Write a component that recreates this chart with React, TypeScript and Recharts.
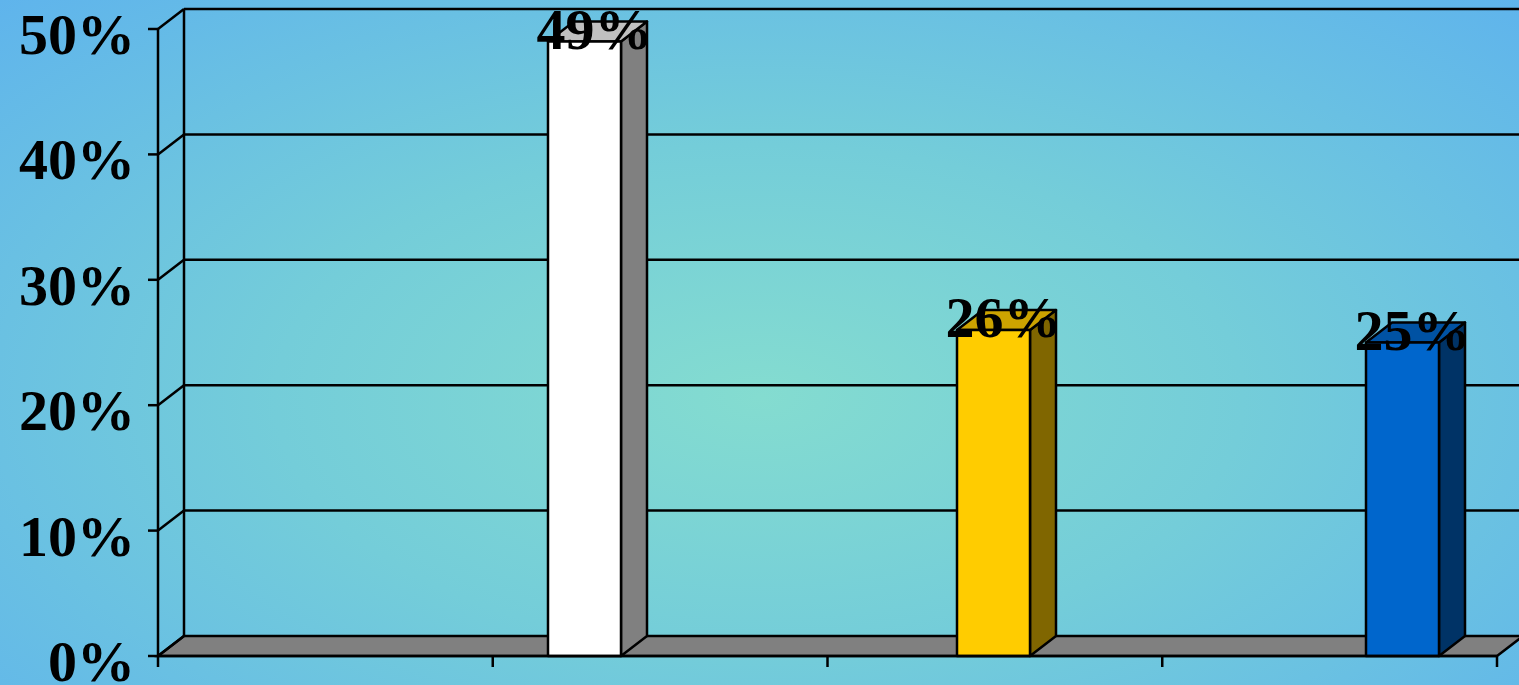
import { Bar, BarChart, CartesianGrid, Cell, LabelList, XAxis, YAxis } from 'recharts';

const categories = ['A', 'B', 'C'];
const values = [49, 26, 25];
const yTicks = [0, 10, 20, 30, 40, 50];
const floorTicks = [0, 1, 2, 3, 4];
const frontColors = ['#ffffff', '#ffcc00', '#0066cc'];
const topColors = ['#c0c0c0', '#cca300', '#0052a3'];
const sideColors = ['#808080', '#806600', '#003366'];

const data = categories.map((name, i) => ({ name, value: values[i] }));

const DX = 26;
const DY = 20;
const LINE = 2.5;
const FONT = "'Liberation Serif', 'Times New Roman', serif";

function Box3D(props: any) {
  const { x, y, width, height, index } = props;
  const right = x + width;
  const bottom = y + height;
  return (
    <g stroke="#000" strokeWidth={LINE} strokeLinejoin="round">
      <polygon
        points={`${right},${y} ${right + DX},${y - DY} ${right + DX},${bottom - DY} ${right},${bottom}`}
        fill={sideColors[index]}
      />
      <polygon
        points={`${x},${y} ${x + DX},${y - DY} ${right + DX},${y - DY} ${right},${y}`}
        fill={topColors[index]}
      />
      <rect x={x} y={y} width={width} height={height} fill={frontColors[index]} />
    </g>
  );
}

function WallLine(props: any) {
  const { x1, x2, y1, y, height } = props;
  const bottom = y + height;
  const isFloor = Math.abs(y1 - bottom) < 1;
  const isTop = Math.abs(y1 - y) < 1;
  return (
    <g key={props.key ?? `${y1}`}>
      {isFloor && (
        <polygon
          points={`${x1},${y1} ${x1 + DX},${y1 - DY} ${x2 + DX},${y1 - DY} ${x2},${y1}`}
          fill="#808080"
          stroke="#000"
          strokeWidth={LINE}
        />
      )}
      {isTop && <line x1={x1 + DX} y1={y1 - DY} x2={x1 + DX} y2={bottom - DY} stroke="#000" strokeWidth={LINE} />}
      <line x1={x1} y1={y1} x2={x1 + DX} y2={y1 - DY} stroke="#000" strokeWidth={LINE} />
      {!isFloor && <line x1={x1 + DX} y1={y1 - DY} x2={x2 + DX} y2={y1 - DY} stroke="#000" strokeWidth={LINE} />}
    </g>
  );
}

function YTick(props: any) {
  const { x, y, payload } = props;
  return (
    <text x={x} y={y + 25} textAnchor="end" fontFamily={FONT} fontWeight="bold" fontSize={58} fill="#000">
      {payload.value}%
    </text>
  );
}

function FloorTick(props: any) {
  const { x, y } = props;
  return <line x1={x} y1={y} x2={x} y2={y + 11} stroke="#000" strokeWidth={LINE} />;
}

function ValueLabel(props: any) {
  const { x, y, width, value } = props;
  return (
    <text
      x={Number(x) + Number(width) / 2 + 10}
      y={Number(y) + 7}
      textAnchor="middle"
      fontFamily={FONT}
      fontWeight="bold"
      fontSize={58}
      fill="#000"
    >
      {value}%
    </text>
  );
}

export default function App() {
  return (
    <div
      style={{
        position: 'fixed',
        left: 0,
        top: 0,
        width: 1519,
        height: 685,
        background: 'radial-gradient(ellipse farthest-corner at 50% 58%, #84dcd0 0%, #74cdd9 45%, #5fb4ec 100%)',
      }}
    >
      <BarChart width={1519} height={685} data={data} margin={{ top: 29, right: 22, left: 0, bottom: 0 }}>
        <CartesianGrid xAxisId="grid" vertical={false} horizontal={(p: any) => <WallLine {...p} />} />
        <XAxis
          xAxisId="grid"
          type="number"
          dataKey={() => 0}
          domain={[0, 4]}
          ticks={floorTicks}
          interval={0}
          allowDataOverflow
          height={29}
          tick={<FloorTick />}
          tickSize={0}
          tickMargin={0}
          tickLine={false}
          axisLine={{ stroke: '#000', strokeWidth: LINE }}
        />
        <XAxis xAxisId="cat" dataKey="name" hide height={0} padding={{ left: 222, right: -110 }} />
        <YAxis
          width={158}
          domain={[0, 50]}
          ticks={yTicks}
          interval={0}
          tickSize={10}
          tickMargin={13}
          tick={<YTick />}
          axisLine={{ stroke: '#000', strokeWidth: LINE }}
          tickLine={{ stroke: '#000', strokeWidth: LINE }}
        />
        <Bar xAxisId="cat" dataKey="value" barSize={73} shape={<Box3D />} isAnimationActive={false}>
          {data.map((d, i) => (
            <Cell key={d.name} fill={frontColors[i]} />
          ))}
          <LabelList dataKey="value" content={<ValueLabel />} />
        </Bar>
      </BarChart>
    </div>
  );
}
